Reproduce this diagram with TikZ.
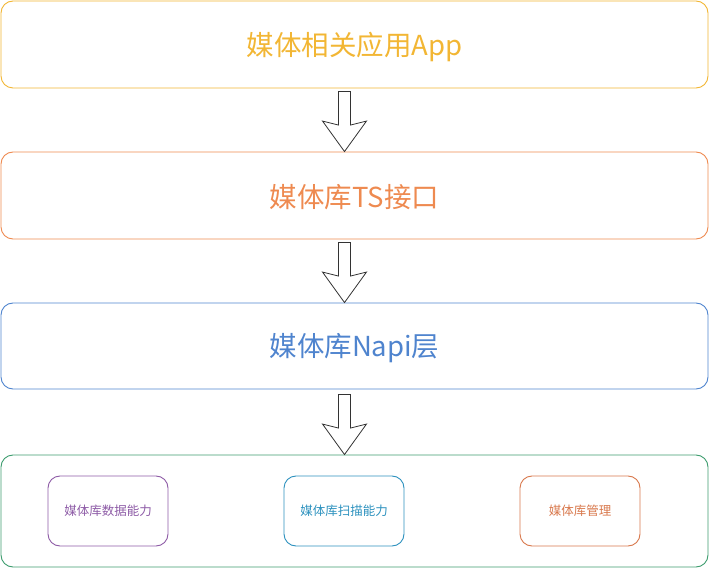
\documentclass[tikz,border=0pt]{standalone}
\usepackage{fontspec}
\newfontfamily\cjk{Noto Sans CJK SC}
\definecolor{cyel}{HTML}{F2B634}
\definecolor{cora}{HTML}{EE8A50}
\definecolor{cblu}{HTML}{4F84CE}
\definecolor{cgrn}{HTML}{3D9C6E}
\definecolor{cpur}{HTML}{8D5BA6}
\definecolor{ctea}{HTML}{2C91BE}
\definecolor{cor2}{HTML}{D8784C}
\definecolor{carr}{HTML}{333333}
\tikzset{
  bigbox/.style={draw, rounded corners=12pt, line width=0.9pt, minimum width=707pt, inner sep=0pt, font=\cjk\fontsize{27.5}{32}\selectfont},
  bigtext/.style={yshift=2pt},
  smallbox/.style={draw, rounded corners=12pt, line width=0.9pt, minimum width=120pt, minimum height=70pt, inner sep=0pt, font=\cjk\fontsize{12.5}{15}\selectfont},
  blockarrow/.style={draw=carr, line width=0.8pt, fill=white, line join=miter}
}
\begin{document}
\begin{tikzpicture}[x=1pt,y=-1pt]
\useasboundingbox (0,0) rectangle (710,569);
\node[bigbox, draw=cyel, minimum height=87pt] (app) at (354.5,44.5) {};
\node[bigbox, draw=cora, minimum height=87pt] (ts) at (354.5,195.5) {};
\node[bigbox, draw=cblu, minimum height=86pt] (napi) at (354.5,346) {};
\node[bigbox, draw=cgrn, minimum height=112pt] (core) at (354.5,511) {};
\node[font=\cjk\fontsize{27.5}{32}\selectfont, text=cyel, anchor=center] (apptext) at ([yshift=-2pt]app.center) {媒体相关应用App};
\node[font=\cjk\fontsize{27.5}{32}\selectfont, text=cora, anchor=center] (tstext) at ([yshift=-2pt]ts.center) {媒体库TS接口};
\node[font=\cjk\fontsize{27.5}{32}\selectfont, text=cblu, anchor=center] (napitext) at ([yshift=-2pt]napi.center) {媒体库Napi层};
\node[smallbox, draw=cpur, text=cpur] (data) at (108,511) {媒体库数据能力};
\node[smallbox, draw=ctea, text=ctea] (scan) at (344,511) {媒体库扫描能力};
\node[smallbox, draw=cor2, text=cor2] (mgmt) at (580,511) {媒体库管理};
% block arrows, tip on the top edge of the lower box
\foreach \tgt in {ts,napi,core}{
  \draw[blockarrow] (\tgt.north -| 344.5,0)
    -- ++(-22,-30.5) -- ++(16,4) -- ++(0,-33.5) -- ++(12,0) -- ++(0,33.5) -- ++(16,-4) -- cycle;
}
\end{tikzpicture}
\end{document}
